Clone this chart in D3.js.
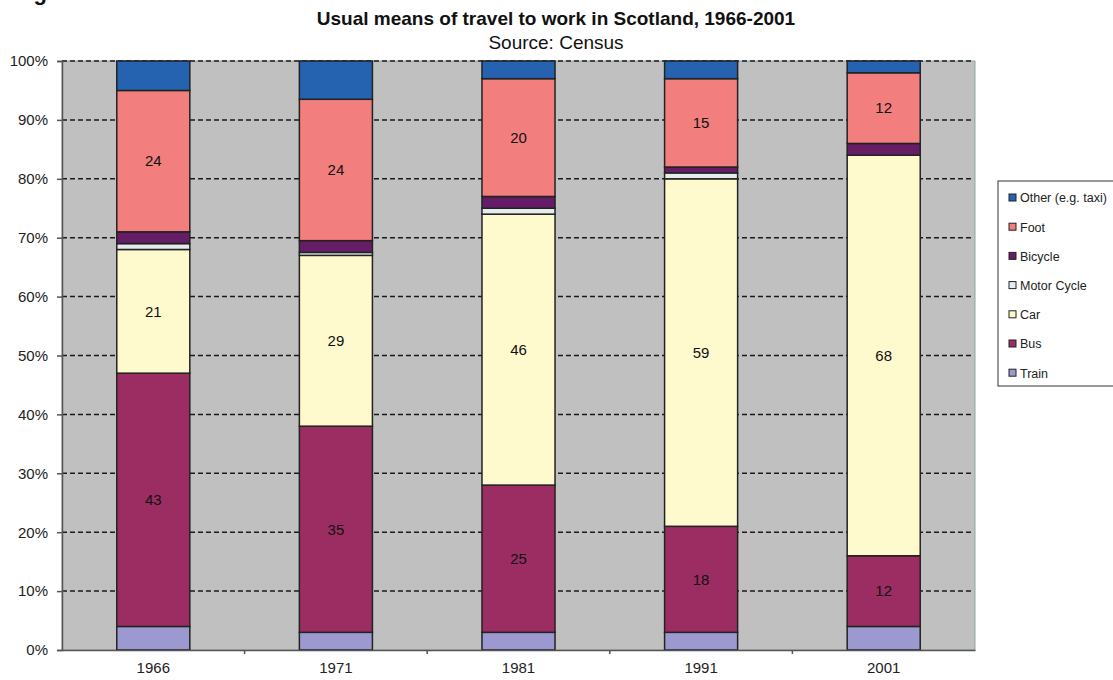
<!DOCTYPE html>
<html>
<head>
<meta charset="utf-8">
<script src="https://cdn.jsdelivr.net/npm/d3@7"></script>
<style>
  body { margin: 0; background: #fff; }
  svg { display: block; font-family: Arial, "Liberation Sans", sans-serif; }
</style>
</head>
<body>
<script>
const WIDTH = 1113;
const HEIGHT = 680;
const MARGIN = { left: 62, right: 138, top: 61, bottom: 30 };

// data (percent of workers)
const years = ["1966", "1971", "1981", "1991", "2001"];
const modes = ["Train", "Bus", "Car", "Motor Cycle", "Bicycle", "Foot", "Other (e.g. taxi)"];
const train = [4, 3, 3, 3, 4];
const bus = [43, 35, 25, 18, 12];
const car = [21, 29, 46, 59, 68];
const motorCycle = [1, 0.5, 1, 1, 0];
const bicycle = [2, 2, 2, 1, 2];
const foot = [24, 24, 20, 15, 12];
const other = [5, 6.5, 3, 3, 2];
const yTicks = [0, 10, 20, 30, 40, 50, 60, 70, 80, 90, 100];

const COLORS = ["#9b99cf", "#9b2d62", "#fffacd", "#e4ecec", "#651d66", "#f27e7e", "#2563b0"];

const series = [train, bus, car, motorCycle, bicycle, foot, other];
const rows = years.map((year, i) => {
  const row = { year };
  modes.forEach((m, j) => row[m] = series[j][i]);
  return row;
});
const stacked = d3.stack().keys(modes)(rows);

const x = d3.scaleBand()
  .domain(years)
  .range([MARGIN.left, WIDTH - MARGIN.right])
  .paddingInner(0.6)
  .paddingOuter(0.3);
const y = d3.scaleLinear([0, 100], [HEIGHT - MARGIN.bottom, MARGIN.top]);
const color = d3.scaleOrdinal(modes, COLORS);

const svg = d3.select("body").append("svg")
  .attr("width", WIDTH)
  .attr("height", HEIGHT)
  .attr("viewBox", [0, 0, WIDTH, HEIGHT]);

// figure caption, cropped at the top edge in the source (only the tail of the "g" shows)
svg.append("text")
  .attr("x", 14)
  .attr("y", 0)
  .style("font", "bold 22px Arial")
  .attr("fill", "#111")
  .text("Figure");

// titles
svg.append("text")
  .attr("x", 556)
  .attr("y", 25)
  .attr("text-anchor", "middle")
  .style("font", "bold 19px Arial")
  .attr("fill", "#111")
  .text("Usual means of travel to work in Scotland, 1966-2001");
svg.append("text")
  .attr("x", 556)
  .attr("y", 49)
  .attr("text-anchor", "middle")
  .style("font", "19px Arial")
  .attr("fill", "#111")
  .text("Source: Census");

// plot area
svg.append("rect")
  .attr("x", MARGIN.left)
  .attr("y", MARGIN.top)
  .attr("width", WIDTH - MARGIN.right - MARGIN.left)
  .attr("height", HEIGHT - MARGIN.bottom - MARGIN.top)
  .attr("fill", "#c0c0c0")
  .attr("stroke", "#8fa3a3")
  .attr("stroke-width", 1);

// dashed gridlines
svg.append("g")
  .selectAll("line")
  .data(yTicks.filter(d => d > 0))
  .join("line")
    .attr("x1", MARGIN.left)
    .attr("x2", WIDTH - MARGIN.right - 3)
    .attr("y1", d => y(d))
    .attr("y2", d => y(d))
    .attr("stroke", "#1a1a1a")
    .attr("stroke-width", 1.5)
    .attr("stroke-dasharray", "5,3");

// bars
const layer = svg.append("g")
  .selectAll("g")
  .data(stacked)
  .join("g")
    .attr("fill", d => color(d.key));

layer.selectAll("rect")
  .data(d => d.filter(s => s[1] - s[0] > 0))
  .join("rect")
    .attr("x", d => x(d.data.year))
    .attr("y", d => y(d[1]))
    .attr("width", x.bandwidth())
    .attr("height", d => y(d[0]) - y(d[1]))
    .attr("stroke", "#222")
    .attr("stroke-width", 1.5);

// value labels on the big segments
layer.selectAll("text")
  .data(d => d.filter(s => s[1] - s[0] >= 10))
  .join("text")
    .attr("x", d => x(d.data.year) + x.bandwidth() / 2)
    .attr("y", d => y((d[0] + d[1]) / 2))
    .attr("dy", "0.35em")
    .attr("text-anchor", "middle")
    .attr("fill", "#111")
    .style("font", "15px Arial")
    .text(d => d[1] - d[0]);

// y axis
const yAxis = svg.append("g")
  .attr("transform", `translate(${MARGIN.left},0)`)
  .call(d3.axisLeft(y).tickValues(yTicks).tickFormat(d => d + "%").tickSize(5).tickPadding(9));
yAxis.select(".domain").attr("stroke", "#555").attr("stroke-width", 1.5);
yAxis.selectAll(".tick line").attr("stroke", "#555").attr("stroke-width", 1.5);
yAxis.selectAll(".tick text").style("font", "15px Arial").attr("fill", "#222");

// x axis, ticks between the categories
const xAxis = svg.append("g")
  .attr("transform", `translate(0,${HEIGHT - MARGIN.bottom})`)
  .call(d3.axisBottom(x).tickSize(0).tickPadding(12));
xAxis.select(".domain").attr("stroke", "#555").attr("stroke-width", 1.5);
xAxis.selectAll(".tick text").style("font", "15px Arial").attr("fill", "#222");
xAxis.selectAll(".sep")
  .data(years.slice(1))
  .join("line")
    .attr("class", "sep")
    .attr("x1", d => x(d) - x.step() * x.paddingInner() / 2)
    .attr("x2", d => x(d) - x.step() * x.paddingInner() / 2)
    .attr("y1", 0)
    .attr("y2", 4)
    .attr("stroke", "#555")
    .attr("stroke-width", 1.5);

// legend (top entry = top of stack)
const legend = svg.append("g")
  .attr("transform", "translate(998,181)");
legend.append("rect")
  .attr("width", 130)
  .attr("height", 205)
  .attr("fill", "#fff")
  .attr("stroke", "#333")
  .attr("stroke-width", 1);
const item = legend.selectAll(".item")
  .data(modes.slice().reverse())
  .join("g")
    .attr("class", "item")
    .attr("transform", (d, i) => `translate(11,${17 + i * 29.2})`);
item.append("rect")
  .attr("x", 0)
  .attr("y", -4)
  .attr("width", 7)
  .attr("height", 7)
  .attr("fill", d => color(d))
  .attr("stroke", "#222")
  .attr("stroke-width", 1);
item.append("text")
  .attr("x", 11)
  .attr("dy", "0.35em")
  .style("font", "12.5px Arial")
  .attr("fill", "#222")
  .text(d => d);
</script>
</body>
</html>
